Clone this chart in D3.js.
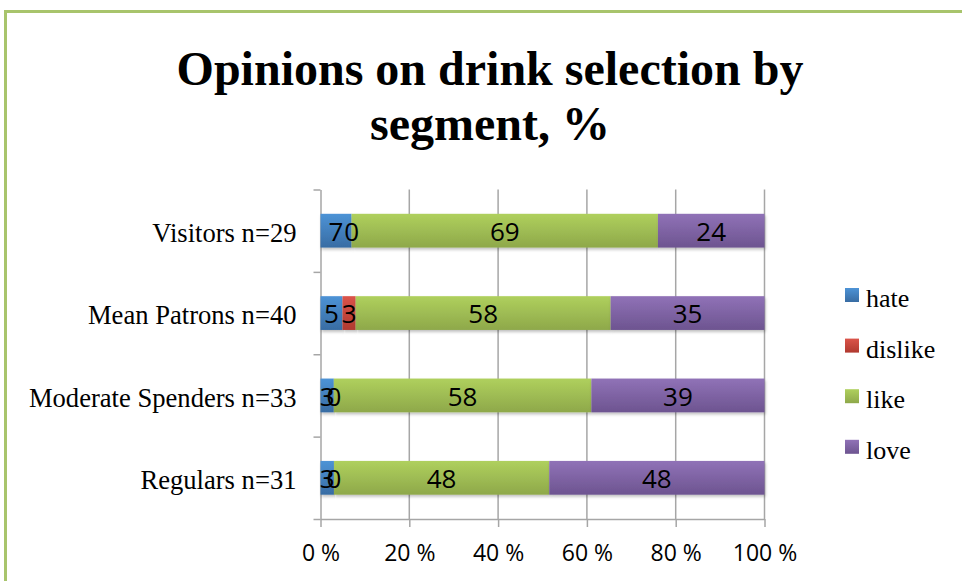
<!DOCTYPE html>
<html>
<head>
<meta charset="utf-8">
<script src="https://cdn.jsdelivr.net/npm/d3@7/dist/d3.min.js"></script>
<style>
  html, body { margin: 0; padding: 0; background: #fff; }
</style>
</head>
<body>
<div id="chart"></div>
<script>
// data
var segments = ["Visitors n=29", "Mean Patrons n=40", "Moderate Spenders n=33", "Regulars n=31"];
var opinions = ["hate", "dislike", "like", "love"];
var hate    = [7, 5, 3, 3];
var dislike = [0, 3, 0, 0];
var like    = [69, 58, 58, 48];
var love    = [24, 35, 39, 48];
var xTicks  = [0, 0.2, 0.4, 0.6, 0.8, 1];

var W = 962, H = 581;
var margin = {top: 189.5, left: 320.5, right: 197.5, bottom: 62};
var width = W - margin.left - margin.right,
    height = H - margin.top - margin.bottom;

var rows = segments.map(function(s, i) {
    return {segment: s, hate: hate[i], dislike: dislike[i], like: like[i], love: love[i]};
});

var svg = d3.select("#chart")
    .append("svg")
    .attr("width", W)
    .attr("height", H);

// gradients for the bars (light top, darker bottom)
var grads = {
    hate:    ["#4d93d6", "#386ca3"],
    dislike: ["#db544a", "#b0392f"],
    like:    ["#afd05d", "#8ea84a"],
    love:    ["#9072b7", "#6d5490"]
};
var defs = svg.append("defs");
opinions.forEach(function(k) {
    var g = defs.append("linearGradient")
        .attr("id", "g-" + k)
        .attr("x1", 0).attr("y1", 0).attr("x2", 0).attr("y2", 1);
    g.append("stop").attr("offset", "0%").attr("stop-color", grads[k][0]);
    g.append("stop").attr("offset", "100%").attr("stop-color", grads[k][1]);
});
var f = defs.append("filter").attr("id", "shadow")
    .attr("x", "-5%").attr("y", "-20%").attr("width", "110%").attr("height", "160%");
f.append("feDropShadow")
    .attr("dx", 1).attr("dy", 2).attr("stdDeviation", 1.5)
    .attr("flood-color", "#000").attr("flood-opacity", 0.25);

// outer frame (green, top and left)
svg.append("path")
    .attr("d", "M5.5," + H + "V11.5H" + W)
    .style("fill", "none")
    .style("stroke", "#a8c46c")
    .style("stroke-width", 3);

// title
var title = svg.append("text")
    .attr("x", 490)
    .attr("text-anchor", "middle")
    .style("font-family", "'Liberation Serif', 'Times New Roman', serif")
    .style("font-weight", "bold")
    .style("font-size", "48px")
    .style("fill", "#000");
title.append("tspan").attr("x", 490).attr("y", 85).text("Opinions on drink selection by");
title.append("tspan").attr("x", 490).attr("y", 140).text("segment, %");

var g = svg.append("g")
    .attr("transform", "translate(" + margin.left + "," + margin.top + ")");

var x = d3.scaleLinear().domain([0, 1]).range([0, width]);
var y = d3.scaleBand().domain(segments).range([0, height])
    .paddingInner(0.59).paddingOuter(0.295);
var yb = d3.scaleLinear().domain([0, segments.length]).range([height, 0]);

var color = d3.scaleOrdinal().domain(opinions)
    .range(opinions.map(function(k) { return "url(#g-" + k + ")"; }));

// vertical gridlines
g.append("g")
    .selectAll("line")
    .data(xTicks.slice(1))
    .enter()
    .append("line")
    .attr("x1", function(d) { return x(d); })
    .attr("x2", function(d) { return x(d); })
    .attr("y1", 0)
    .attr("y2", height)
    .style("stroke", "#a6a6a6")
    .style("stroke-width", 1.5);

// x axis
var xAxis = g.append("g")
    .attr("transform", "translate(0," + height + ")")
    .call(d3.axisBottom(x).tickValues(xTicks)
        .tickFormat(function(d) { return Math.round(d * 100) + " %"; })
        .tickSize(8).tickSizeOuter(0).tickPadding(18));
xAxis.select(".domain").style("stroke", "#a6a6a6").style("stroke-width", 1.5);
xAxis.selectAll(".tick line").style("stroke", "#a6a6a6").style("stroke-width", 1.5);
xAxis.selectAll(".tick text")
    .style("font-family", "'Open Sans', sans-serif")
    .style("font-size", "23px")
    .style("fill", "#000");

// y axis: ticks between categories
var yAxis = g.append("g")
    .call(d3.axisLeft(yb).ticks(segments.length).tickFormat("").tickSize(7).tickSizeOuter(0));
yAxis.select(".domain").style("stroke", "#a6a6a6").style("stroke-width", 1.5);
yAxis.selectAll(".tick line").style("stroke", "#a6a6a6").style("stroke-width", 1.5);

// category labels
var yLab = g.append("g")
    .call(d3.axisLeft(y).tickSize(0).tickPadding(24));
yLab.select(".domain").remove();
yLab.selectAll(".tick text")
    .attr("dy", "0.42em")
    .style("font-family", "'Liberation Serif', 'Times New Roman', serif")
    .style("font-size", "26.6px")
    .style("fill", "#000");

// stacked bars, 100 %
var series = d3.stack().keys(opinions).offset(d3.stackOffsetExpand)(rows);

var layer = g.selectAll(".layer")
    .data(series)
    .enter()
    .append("g")
    .attr("class", "layer")
    .style("fill", function(d) { return color(d.key); });

layer.selectAll("rect")
    .data(function(d) { return d; })
    .enter()
    .append("rect")
    .attr("x", function(d) { return x(d[0]); })
    .attr("y", function(d) { return y(d.data.segment); })
    .attr("width", function(d) { return x(d[1]) - x(d[0]); })
    .attr("height", y.bandwidth())
    .attr("filter", "url(#shadow)");

// value labels (zeros included, like the original)
series.forEach(function(s) {
    g.append("g")
        .selectAll("text")
        .data(s)
        .enter()
        .append("text")
        .attr("x", function(d) { return x((d[0] + d[1]) / 2); })
        .attr("y", function(d) { return y(d.data.segment) + y.bandwidth() / 2; })
        .attr("dy", "0.4em")
        .attr("text-anchor", "middle")
        .style("font-family", "'Open Sans', sans-serif")
        .style("font-size", "26px")
        .style("fill", "#000")
        .text(function(d) { return d.data[s.key]; });
});

// legend
var legend = svg.append("g")
    .selectAll("g")
    .data(opinions)
    .enter()
    .append("g")
    .attr("transform", function(d, i) { return "translate(845," + (288 + i * 50.6) + ")"; });

legend.append("rect")
    .attr("width", 14)
    .attr("height", 14)
    .style("fill", function(d) { return color(d); });

legend.append("text")
    .attr("x", 21)
    .attr("y", 19)
    .style("font-family", "'Liberation Serif', 'Times New Roman', serif")
    .style("font-size", "26px")
    .style("fill", "#000")
    .text(function(d) { return d; });
</script>
</body>
</html>
